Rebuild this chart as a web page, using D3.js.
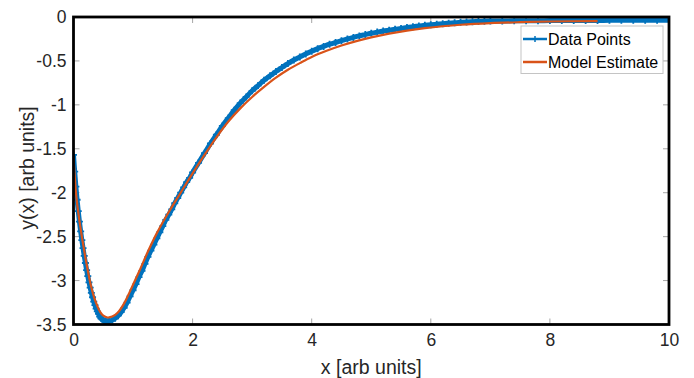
<!DOCTYPE html>
<html><head><meta charset="utf-8">
<script src="https://cdn.jsdelivr.net/npm/d3@7"></script>
<style>html,body{margin:0;padding:0;background:#fff;overflow:hidden}</style>
</head><body>
<script>
// ---- data ----
const dataX = [0.00,0.02,0.04,0.06,0.08,0.10,0.12,0.14,0.16,0.18,0.20,0.22,0.24,0.26,0.28,0.30,0.32,0.34,0.36,0.38,0.40,0.42,0.44,0.46,0.48,0.50,0.52,0.54,0.56,0.58,0.60,
  0.65,0.70,0.75,0.80,0.85,0.90,0.95,1.00,1.05,1.10,1.15,1.20,1.25,1.30,1.35,1.40,1.45,1.50,1.55,1.60,1.65,1.70,1.75,1.80,1.85,1.90,1.95,2.00,
  2.1,2.2,2.3,2.4,2.5,2.6,2.7,2.8,2.9,3.0,3.1,3.2,3.3,3.4,3.5,3.6,3.7,3.8,3.9,4.0,4.1,4.2,4.3,4.4,4.5,4.6,4.7,4.8,4.9,5.0,
  5.1,5.2,5.3,5.4,5.5,5.6,5.7,5.8,5.9,6.0,6.1,6.2,6.3,6.4,6.5,6.6,6.7,6.8,6.9,7.0,7.2,7.4,7.6,7.8,8.0,8.2,8.4,8.6,8.8,9.0,9.2,9.4,9.6,9.8,10.0];
const dataY = [-1.57,-1.76,-1.93,-2.08,-2.21,-2.33,-2.44,-2.54,-2.63,-2.72,-2.80,-2.88,-2.95,-3.02,-3.08,-3.14,-3.19,-3.24,-3.28,-3.32,-3.35,-3.38,-3.41,-3.43,-3.44,-3.45,-3.46,-3.46,-3.47,-3.47,-3.46,
  -3.45,-3.43,-3.40,-3.36,-3.31,-3.25,-3.18,-3.11,-3.04,-2.96,-2.89,-2.81,-2.73,-2.66,-2.59,-2.52,-2.45,-2.38,-2.31,-2.25,-2.19,-2.12,-2.06,-2.00,-1.94,-1.88,-1.83,-1.77,
  -1.66,-1.55,-1.44,-1.34,-1.24,-1.15,-1.06,-0.98,-0.91,-0.84,-0.78,-0.72,-0.67,-0.62,-0.575,-0.53,-0.49,-0.455,-0.42,-0.39,-0.36,-0.335,-0.31,-0.29,-0.27,-0.25,-0.232,-0.215,-0.20,-0.185,
  -0.172,-0.16,-0.15,-0.14,-0.13,-0.12,-0.11,-0.103,-0.095,-0.088,-0.082,-0.076,-0.071,-0.066,-0.061,-0.057,-0.054,-0.051,-0.048,-0.046,-0.045,-0.044,-0.043,-0.042,-0.041,-0.040,-0.040,-0.039,-0.039,-0.038,-0.038,-0.037,-0.037,-0.036,-0.036];
const modelX = [0,0.05,0.1,0.15,0.2,0.25,0.3,0.35,0.4,0.45,0.5,0.57,0.65,0.75,0.85,0.95,1.1,1.25,1.4,1.6,1.8,2.0,2.2,2.4,2.6,2.8,3.0,3.2,3.4,3.6,3.8,4.0,4.25,4.5,4.75,5.0,5.3,5.6,5.9,6.2,6.5,7.0,7.5,8.0,8.8];
const modelY = [-1.60,-2.06,-2.32,-2.54,-2.74,-2.92,-3.08,-3.20,-3.29,-3.36,-3.40,-3.42,-3.41,-3.36,-3.26,-3.12,-2.90,-2.67,-2.46,-2.22,-2.00,-1.78,-1.57,-1.37,-1.19,-1.04,-0.91,-0.795,-0.69,-0.60,-0.525,-0.455,-0.385,-0.325,-0.275,-0.232,-0.19,-0.155,-0.127,-0.105,-0.088,-0.07,-0.059,-0.051,-0.046];
const xTicks = [0,2,4,6,8,10];
const yTicks = [0,-0.5,-1,-1.5,-2,-2.5,-3,-3.5];
const seriesNames = ["Data Points","Model Estimate"];
const colors = ["#0072BD","#D95319"];

// ---- layout ----
const W = 694, H = 378;
const L = 73.5, R = 669, T = 17, B = 324.5;
const FONT = "Liberation Sans, Arial, sans-serif";
const svg = d3.select("body").append("svg").attr("width", W).attr("height", H)
  .style("font-family", FONT);

const x = d3.scaleLinear().domain([0,10]).range([L,R]);
const y = d3.scaleLinear().domain([-3.5,0]).range([B,T]);

const tickCol = "#a6a6a6", txtCol = "#262626";
// inward ticks on all four sides
const gT = svg.append("g");
xTicks.forEach(v => {
  gT.append("line").attr("x1", x(v)).attr("x2", x(v)).attr("y1", B).attr("y2", B-6).attr("stroke", tickCol);
  gT.append("line").attr("x1", x(v)).attr("x2", x(v)).attr("y1", T).attr("y2", T+6).attr("stroke", tickCol);
});
yTicks.forEach(v => {
  gT.append("line").attr("x1", L).attr("x2", L+6).attr("y1", y(v)).attr("y2", y(v)).attr("stroke", tickCol);
  gT.append("line").attr("x1", R).attr("x2", R-6).attr("y1", y(v)).attr("y2", y(v)).attr("stroke", tickCol);
});

// tick labels via axes
const xAxis = svg.append("g").attr("transform", `translate(0,${B})`)
  .call(d3.axisBottom(x).tickValues(xTicks).tickSize(0).tickPadding(9).tickFormat(d3.format("d")));
const yAxis = svg.append("g").attr("transform", `translate(${L},0)`)
  .call(d3.axisLeft(y).tickValues(yTicks).tickSize(0).tickPadding(7).tickFormat(d => d === 0 ? "0" : String(d)));
[xAxis, yAxis].forEach(a => {
  a.select(".domain").remove();
  a.selectAll("text").attr("fill", txtCol).style("font-size", "17.5px").style("font-family", FONT);
});

// clip
svg.append("clipPath").attr("id","clip").append("rect").attr("x", L).attr("y", T).attr("width", R-L).attr("height", B-T);
const plot = svg.append("g").attr("clip-path", "url(#clip)");

const dataPts = dataX.map((d,i) => [d, dataY[i]]);
const modelPts = modelX.map((d,i) => [d, modelY[i]]);
const lineGen = d3.line().x(d => x(d[0])).y(d => y(d[1])).curve(d3.curveCatmullRom.alpha(0.5));

plot.append("path").datum(dataPts).attr("d", lineGen)
  .attr("fill","none").attr("stroke", colors[0]).attr("stroke-width", 5).attr("stroke-linejoin","round");
const ms = 3.5;
plot.append("g").selectAll("path").data(dataPts).join("path")
  .attr("d", d => `M${x(d[0])-ms},${y(d[1])}H${x(d[0])+ms}M${x(d[0])},${y(d[1])-ms}V${y(d[1])+ms}`)
  .attr("stroke", colors[0]).attr("stroke-width", 1.8).attr("fill","none");

plot.append("path").datum(modelPts).attr("d", lineGen)
  .attr("fill","none").attr("stroke", colors[1]).attr("stroke-width", 2.2);

// box
svg.append("rect").attr("x", L).attr("y", T).attr("width", R-L).attr("height", B-T)
  .attr("fill","none").attr("stroke","#000").attr("stroke-width", 2.8);

// axis titles
svg.append("text").attr("x", (L+R)/2).attr("y", 374).attr("text-anchor","middle")
  .attr("fill", txtCol).style("font-size","19.5px").text("x [arb units]");
svg.append("text").attr("transform", `translate(34,168) rotate(-90)`).attr("text-anchor","middle")
  .attr("fill", txtCol).style("font-size","19.5px").text("y(x) [arb units]");

// legend
const lg = svg.append("g");
lg.append("rect").attr("x", 521).attr("y", 26).attr("width", 142).attr("height", 47.5)
  .attr("fill","#fff").attr("stroke","#c4c4c4").attr("stroke-width",1);
seriesNames.forEach((n,i) => {
  const yy = 39 + i*23;
  lg.append("line").attr("x1", 523).attr("x2", 547).attr("y1", yy).attr("y2", yy)
    .attr("stroke", colors[i]).attr("stroke-width", 2.5);
  if (i === 0) {
    lg.append("path").attr("d", `M${535-3},${yy}H${535+3}M535,${yy-3}V${yy+3}`).attr("stroke", colors[0]).attr("stroke-width",1.5);
  }
  lg.append("text").attr("x", 548).attr("y", yy).attr("dy","0.35em")
    .attr("fill","#000").style("font-size","16px").text(n);
});
</script>
</body></html>
